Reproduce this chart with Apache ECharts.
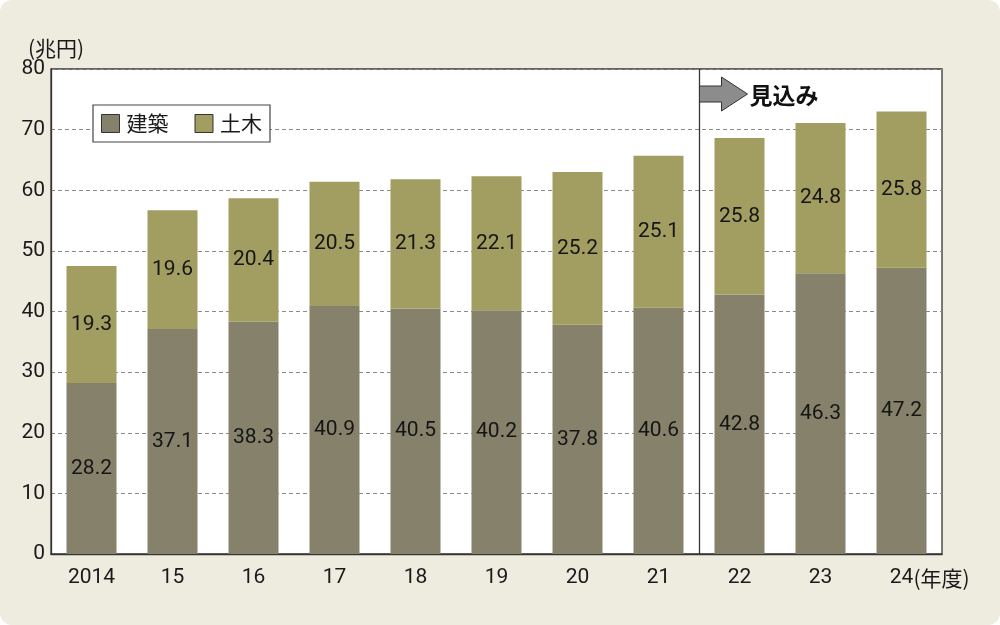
<!DOCTYPE html>
<html>
<head>
<meta charset="utf-8">
<script src="https://cdn.jsdelivr.net/npm/echarts@6/dist/echarts.min.js"></script>
<style>
  html, body { margin: 0; padding: 0; background: #fff; }
  #chart { width: 1000px; height: 625px; background: #EEEBDF; border-radius: 12px; }
</style>
</head>
<body>
<div id="chart"></div>
<script>
// 年度
const years = ['2014', '15', '16', '17', '18', '19', '20', '21', '22', '23', '24'];
// 建築（兆円）
const kenchiku = [28.2, 37.1, 38.3, 40.9, 40.5, 40.2, 37.8, 40.6, 42.8, 46.3, 47.2];
// 土木（兆円）
const doboku = [19.3, 19.6, 20.4, 20.5, 21.3, 22.1, 25.2, 25.1, 25.8, 24.8, 25.8];
// 見込みの始まる年度の位置
const forecastFrom = 8;

const NUM_FONT = '"Liberation Sans Narrow", "Roboto", sans-serif';
const JP_FONT = '"Noto Sans CJK JP", sans-serif';

const chart = echarts.init(document.getElementById('chart'));

const barLabel = {
  show: true,
  position: 'inside',
  fontFamily: NUM_FONT,
  fontSize: 21,
  color: '#151515',
  formatter: p => p.value.toFixed(1)
};

chart.setOption({
  animation: false,
  textStyle: { fontFamily: NUM_FONT },
  grid: {
    left: 51, right: 58, top: 69, bottom: 71,
    show: true,
    backgroundColor: '#fff',
    borderColor: '#3a3434',
    borderWidth: 1.3
  },
  legend: {
    left: 93, top: 105,
    orient: 'horizontal',
    backgroundColor: '#fff',
    borderColor: '#444',
    borderWidth: 1.2,
    borderRadius: 0,
    padding: [8, 8, 8, 8],
    itemGap: 26,
    itemWidth: 18,
    itemHeight: 18,
    icon: 'rect',
    itemStyle: { borderColor: '#333', borderWidth: 1 },
    textStyle: { fontFamily: JP_FONT, fontSize: 21, color: '#1a1a1a', padding: [0, 0, 0, 2] },
    data: ['建築', '土木']
  },
  xAxis: {
    type: 'category',
    data: years,
    axisLine: { lineStyle: { color: '#3a3434', width: 1.3 } },
    axisTick: { show: false },
    axisLabel: { fontFamily: NUM_FONT, fontSize: 21, color: '#1a1a1a', margin: 13 }
  },
  yAxis: {
    type: 'value',
    min: 0, max: 80, interval: 10,
    name: '(兆円)',
    nameLocation: 'end',
    nameGap: 9,
    nameTextStyle: { fontFamily: JP_FONT, fontSize: 21, color: '#1a1a1a', align: 'center', padding: [0, 0, 0, 10] },
    axisLine: { show: true, lineStyle: { color: '#3a3434', width: 1.3 } },
    axisTick: { show: false },
    axisLabel: { fontFamily: NUM_FONT, fontSize: 21, color: '#1a1a1a', margin: 6 },
    splitLine: { lineStyle: { color: '#8a8a8a', width: 1, type: [4, 3] } }
  },
  series: [
    {
      name: '建築', type: 'bar', stack: 'total', data: kenchiku,
      barWidth: 50,
      itemStyle: { color: '#85816A' },
      label: barLabel
    },
    {
      name: '土木', type: 'bar', stack: 'total', data: doboku,
      barWidth: 50,
      itemStyle: { color: '#A29D61' },
      label: barLabel
    }
  ]
});

// 見込み区切り線・矢印・(年度)
function drawOverlay() {
  const xa = chart.convertToPixel({ xAxisIndex: 0 }, forecastFrom - 1);
  const xb = chart.convertToPixel({ xAxisIndex: 0 }, forecastFrom);
  const xLast = chart.convertToPixel({ xAxisIndex: 0 }, years.length - 1);
  const yTop = chart.convertToPixel({ yAxisIndex: 0 }, 80);
  const yBot = chart.convertToPixel({ yAxisIndex: 0 }, 0);
  const xl = Math.round((xa + xb) / 2) + 0.5;
  const ay = yTop + 25;

  chart.setOption({
    graphic: [
      {
        type: 'line', z: 10,
        shape: { x1: xl, y1: yTop, x2: xl, y2: yBot },
        style: { stroke: '#3a3434', lineWidth: 1.3 }
      },
      {
        type: 'polygon', z: 11,
        shape: {
          points: [
            [xl, ay - 8], [xl + 22, ay - 8], [xl + 22, ay - 17],
            [xl + 48, ay], [xl + 22, ay + 17], [xl + 22, ay + 8], [xl, ay + 8]
          ]
        },
        style: { fill: '#8c8c8c', stroke: '#333', lineWidth: 1 }
      },
      {
        type: 'text', z: 11,
        x: xl + 50, y: ay + 1,
        style: {
          text: '見込み', fontFamily: JP_FONT, fontSize: 23, fontWeight: 'bold',
          fill: '#111', verticalAlign: 'middle', align: 'left'
        }
      },
      {
        type: 'text', z: 11,
        x: xLast + 12, y: yBot + 24,
        style: {
          text: '(年度)', fontFamily: JP_FONT, fontSize: 21,
          fill: '#1a1a1a', verticalAlign: 'middle', align: 'left'
        }
      }
    ]
  });
}
drawOverlay();
</script>
</body>
</html>
